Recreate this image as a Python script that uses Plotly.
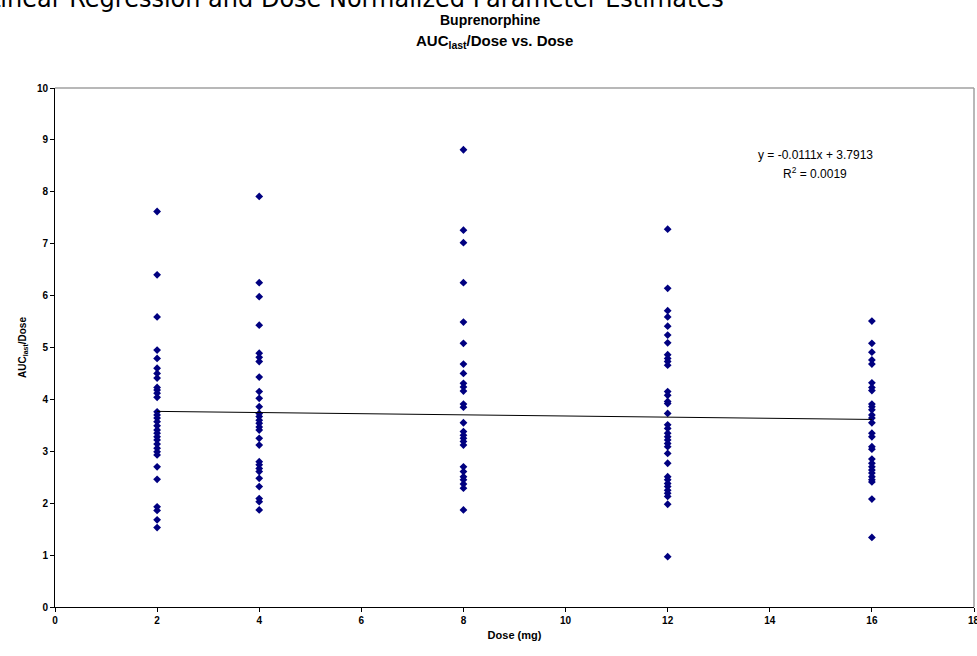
import plotly.graph_objects as go

# Data
dose_levels = [2, 4, 8, 12, 16]
auc_dose_2 = [7.62, 6.40, 5.59, 4.95, 4.79, 4.60, 4.50, 4.41, 4.23, 4.18, 4.12, 4.04,
              3.76, 3.70, 3.64, 3.57, 3.49, 3.41, 3.35, 3.28, 3.22, 3.14, 3.06, 2.99,
              2.93, 2.70, 2.46, 1.93, 1.86, 1.68, 1.53]
auc_dose_4 = [7.91, 6.25, 5.98, 5.43, 4.89, 4.81, 4.73, 4.43, 4.15, 4.02, 3.86, 3.73,
              3.67, 3.60, 3.54, 3.47, 3.41, 3.25, 3.12, 2.80, 2.74, 2.67, 2.61, 2.48,
              2.32, 2.09, 2.03, 1.87]
auc_dose_8 = [8.81, 7.26, 7.02, 6.25, 5.49, 5.08, 4.68, 4.50, 4.31, 4.24, 4.16, 3.91,
              3.85, 3.55, 3.38, 3.31, 3.25, 3.19, 3.12, 2.70, 2.61, 2.51, 2.45, 2.37,
              2.29, 1.87]
auc_dose_12 = [7.28, 6.14, 5.71, 5.59, 5.41, 5.24, 5.09, 4.86, 4.79, 4.73, 4.66, 4.15,
               4.08, 3.96, 3.92, 3.73, 3.51, 3.44, 3.35, 3.28, 3.22, 3.15, 3.09, 2.96,
               2.77, 2.51, 2.45, 2.38, 2.32, 2.25, 2.19, 2.13, 1.98, 0.97]
auc_dose_16 = [5.51, 5.08, 4.91, 4.76, 4.68, 4.32, 4.23, 4.17, 3.91, 3.86, 3.80, 3.70,
               3.64, 3.55, 3.35, 3.28, 3.09, 3.04, 2.85, 2.77, 2.70, 2.64, 2.58, 2.51,
               2.45, 2.41, 2.08, 1.34]

# Trendline from the chart's equation
slope = -0.0111
intercept = 3.7913
r_squared = 0.0019

x_ticks = [0, 2, 4, 6, 8, 10, 12, 14, 16, 18]
y_ticks = [0, 1, 2, 3, 4, 5, 6, 7, 8, 9, 10]

groups = [auc_dose_2, auc_dose_4, auc_dose_8, auc_dose_12, auc_dose_16]
xs, ys = [], []
for d, vals in zip(dose_levels, groups):
    xs += [d] * len(vals)
    ys += vals

ARIAL = "Liberation Sans, Arial, sans-serif"
PLOT_L, PLOT_W, PLOT_T, PLOT_H = 55, 919, 88, 519

fig = go.Figure()
fig.add_trace(go.Scatter(
    x=xs, y=ys, mode="markers",
    marker=dict(symbol="diamond", size=6, color="#000080", line=dict(width=0)),
    showlegend=False, hoverinfo="x+y"))

line_x = [min(dose_levels), max(dose_levels)]
line_y = [slope * v + intercept for v in line_x]
fig.add_trace(go.Scatter(
    x=line_x, y=line_y, mode="lines",
    line=dict(color="black", width=1), showlegend=False, hoverinfo="skip"))

tick_font = dict(family=ARIAL, size=10, color="black", weight="bold")

fig.update_layout(
    width=977, height=656,
    margin=dict(l=PLOT_L, r=977 - PLOT_L - PLOT_W, t=PLOT_T, b=656 - PLOT_T - PLOT_H),
    paper_bgcolor="white", plot_bgcolor="white",
    font=dict(family=ARIAL, size=10, color="black"),
    xaxis=dict(range=[0, 18], tickvals=x_ticks, ticks="outside", ticklen=4,
               tickcolor="black", showline=True, linecolor="black", linewidth=1,
               showgrid=False, zeroline=False, tickfont=tick_font,
               title=dict(text="<b>Dose (mg)</b>", standoff=6,
                          font=dict(family=ARIAL, size=11))),
    yaxis=dict(range=[0, 10], tickvals=y_ticks, ticks="outside", ticklen=4,
               tickcolor="black", showline=True, linecolor="black", linewidth=1,
               showgrid=False, zeroline=False, tickfont=tick_font,
               title=dict(text="<b>AUC<sub>last</sub>/Dose</b>", standoff=8,
                          font=dict(family=ARIAL, size=10))),
)

# plot-area border (top and right) in grey
fig.add_shape(type="line", xref="paper", yref="paper", x0=0, x1=1, y0=1, y1=1,
              line=dict(color="#a0a0a0", width=1.5))
fig.add_shape(type="line", xref="paper", yref="paper", x0=1, x1=1, y0=0, y1=1,
              line=dict(color="#a0a0a0", width=1.5))

# "18" tick label, partly cut by the page edge as in the reference
fig.add_annotation(text="<b>18</b>", xref="x", yref="paper", x=x_ticks[-1],
                   y=-13 / PLOT_H, showarrow=False, xanchor="center", yanchor="middle",
                   font=tick_font)

def px_x(px):
    return (px - PLOT_L) / PLOT_W

def px_y(py):
    return 1 - (py - PLOT_T) / PLOT_H

# Titles
fig.add_annotation(text="<b>Buprenorphine</b>", xref="paper", yref="paper",
                   x=px_x(490), y=px_y(20), showarrow=False,
                   xanchor="center", yanchor="middle",
                   font=dict(family=ARIAL, size=14, color="black"))
fig.add_annotation(text="<b>AUC<sub>last</sub>/Dose vs. Dose</b>", xref="paper", yref="paper",
                   x=px_x(494), y=px_y(41), showarrow=False,
                   xanchor="center", yanchor="middle",
                   font=dict(family=ARIAL, size=15, color="black"))

# Cut-off page heading
fig.add_annotation(text="Linear Regression and Dose Normalized Parameter Estimates",
                   xref="paper", yref="paper", x=px_x(-15), y=px_y(-1),
                   showarrow=False, xanchor="left", yanchor="middle",
                   font=dict(family="DejaVu Sans, Verdana, sans-serif", size=24, color="black"))

# Trendline equation
fig.add_annotation(text=f"y = {slope}x + {intercept}",
                   xref="paper", yref="paper", x=px_x(815), y=px_y(155),
                   showarrow=False, xanchor="center", yanchor="middle",
                   font=dict(family=ARIAL, size=12, color="black"))
fig.add_annotation(text=f"R<sup>2</sup> = {r_squared}",
                   xref="paper", yref="paper", x=px_x(815), y=px_y(173),
                   showarrow=False, xanchor="center", yanchor="middle",
                   font=dict(family=ARIAL, size=12, color="black"))

fig.write_html("out.html")
